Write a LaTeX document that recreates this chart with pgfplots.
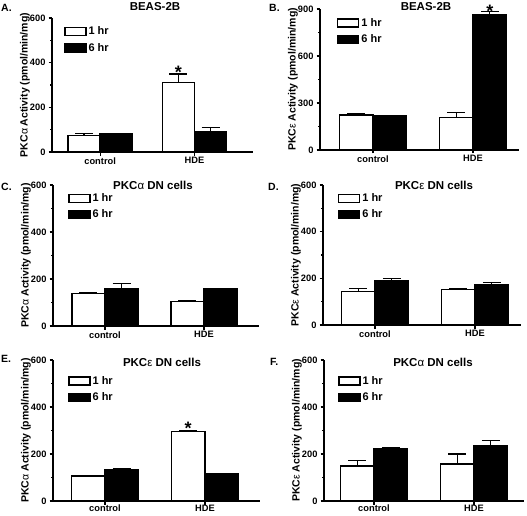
\documentclass[border=0pt]{standalone}
\usepackage{fontspec}
\setmainfont{Liberation Sans}
\usepackage{pgfplots}
\pgfplotsset{compat=1.18}
\pgfplotsset{
 prism/.style={
  scale only axis,
  axis x line*=bottom, axis y line*=left,
  axis line style={-, line width=1.5pt},
  ymin=0,
  xtick={0,1}, xticklabels={control,HDE},
  tick align=outside,
  major tick length=3.5pt, minor tick length=2pt,
  every tick/.style={line width=1.2pt, black},
  minor y tick num=1,
  /pgf/number format/assume math mode=true,
  tick label style={font=\bfseries\fontsize{9.3}{11}\selectfont},
  xticklabel style={yshift=1.5pt},
  yticklabel style={xshift=0.5pt},
  every axis y label/.style={at={([xshift=-27pt]rel axis cs:0,0.5)}, rotate=90, anchor=center, font=\bfseries\fontsize{10.5}{12}\selectfont},
  ybar, bar width=0.335,
  enlargelimits=false, clip=false,
  legend style={anchor=north west, draw=none, fill=none, inner sep=0pt, row sep=3pt,
     font=\bfseries\fontsize{11}{13}\selectfont, /tikz/every even column/.append style={column sep=0pt}},
  legend cell align=left,
 },
 errs/.style={
   error bars/y dir=plus, error bars/y explicit,
   error bars/error bar style={line width=1.3pt, black},
   error bars/error mark options={rotate=90, mark size=9pt, line width=1.3pt, black}},
 one/.style={fill=white, draw=black, line width=1.5pt, bar shift=-0.1675, errs},
 six/.style={fill=black, draw=black, line width=1.5pt, bar shift=0.1675, errs},
}
\newcommand{\legW}{\addlegendimage{legend image code/.code={\draw[fill=white,line width=1.3pt] (0pt,-4pt) rectangle (21pt,4pt);}}}
\newcommand{\legB}{\addlegendimage{legend image code/.code={\draw[fill=black,line width=1.3pt] (0pt,-4pt) rectangle (21pt,4pt);}}}
\newcommand{\gr}[1]{\textmd{#1}}
\begin{document}
\begin{tikzpicture}
\useasboundingbox (0,0) rectangle (527pt,515pt);
% ---------- A ----------
\begin{axis}[prism, at={(52pt,363pt)}, anchor=south west, width=201pt, height=134pt,
  xmin=-0.51, xmax=1.62, ymax=600, ytick={0,200,400,600},
  ylabel={PKC\gr{α} Activity (pmol/min/mg)},
  legend style={at={(0.06,0.95)}}]
\legW \addlegendentry{1 hr}
\legB \addlegendentry{6 hr}
\addplot[one, bar width=0.34, bar shift=-0.17, forget plot] coordinates {(0,73) +- (0,11) (1,311) +- (0,38)};
\addplot[six, bar width=0.34, bar shift=0.17, forget plot] coordinates {(0,82) +- (0,2) (1,91) +- (0,20)};
\node[font=\bfseries\fontsize{18}{18}\selectfont] at (axis cs:0.83,355) {*};
\end{axis}
% ---------- B ----------
\begin{axis}[prism, at={(320pt,365pt)}, anchor=south west, width=199pt, height=141pt,
  xmin=-0.53, xmax=1.46, ymax=900, ytick={0,300,600,900},
  ylabel={PKC\gr{ε} Activity (pmol/min/mg)},
  legend style={at={(0.085,0.95)}}]
\legW \addlegendentry{1 hr}
\legB \addlegendentry{6 hr}
\addplot[one, forget plot] coordinates {(0,223) +- (0,8) (1,208) +- (0,30)};
\addplot[six, forget plot] coordinates {(0,219) +- (0,2) (1,862) +- (0,21)};
\node[font=\bfseries\fontsize{18}{18}\selectfont] at (axis cs:1.1675,885) {*};
\end{axis}
% ---------- C ----------
\begin{axis}[prism, at={(53pt,189pt)}, anchor=south west, width=206pt, height=141pt,
  xmin=-0.525, xmax=1.556, ymax=600, ytick={0,200,400,600},
  ylabel={PKC\gr{α} Activity (pmol/min/mg)},
  legend style={at={(0.073,0.955)}}]
\legW \addlegendentry{1 hr}
\legB \addlegendentry{6 hr}
\addplot[one, forget plot] coordinates {(0,139) +- (0,3) (1,105) +- (0,3)};
\addplot[six, forget plot] coordinates {(0,159) +- (0,23) (1,159) +- (0,2)};
\end{axis}
% ---------- D ----------
\begin{axis}[prism, at={(323pt,190pt)}, anchor=south west, width=198pt, height=140pt,
  xmin=-0.52, xmax=1.46, ymax=600, ytick={0,200,400,600},
  ylabel={PKC\gr{ε} Activity (pmol/min/mg)},
  legend style={at={(0.075,0.955)}}]
\legW \addlegendentry{1 hr}
\legB \addlegendentry{6 hr}
\addplot[one, forget plot] coordinates {(0,143) +- (0,13) (1,153) +- (0,3)};
\addplot[six, forget plot] coordinates {(0,189) +- (0,11) (1,171) +- (0,12)};
\end{axis}
% ---------- E ----------
\begin{axis}[prism, at={(53pt,14pt)}, anchor=south west, width=207pt, height=141pt,
  xmin=-0.52, xmax=1.55, ymax=600, ytick={0,200,400,600},
  xticklabel style={yshift=1.5pt},
  ylabel={PKC\gr{α} Activity (pmol/min/mg)},
  legend style={at={(0.073,0.9)}}]
\legW \addlegendentry{1 hr}
\legB \addlegendentry{6 hr}
\addplot[one, forget plot] coordinates {(0,106) +- (0,0) (1,295) +- (0,4)};
\addplot[six, forget plot] coordinates {(0,132) +- (0,6) (1,115) +- (0,3)};
\node[font=\bfseries\fontsize{18}{18}\selectfont] at (axis cs:0.8325,310) {*};
\end{axis}
% ---------- F ----------
\begin{axis}[prism, at={(324pt,14pt)}, anchor=south west, width=200pt, height=141pt,
  xmin=-0.5, xmax=1.5, ymax=600, ytick={0,200,400,600},
  xticklabel style={yshift=1.5pt},
  ylabel={PKC\gr{ε} Activity (pmol/min/mg)},
  legend style={at={(0.07,0.9)}}]
\legW \addlegendentry{1 hr}
\legB \addlegendentry{6 hr}
\addplot[one, forget plot] coordinates {(0,149) +- (0,23) (1,157) +- (0,43)};
\addplot[six, forget plot] coordinates {(0,224) +- (0,4) (1,237) +- (0,20)};
\end{axis}
% titles and panel letters
\begin{scope}[every node/.style={font=\bfseries\fontsize{11.5}{13}\selectfont}]
\node at (155pt,508pt) {BEAS-2B};
\node at (426pt,508pt) {BEAS-2B};
\node at (153pt,330pt) {PKC\gr{α} DN cells};
\node at (434pt,330pt) {PKC\gr{ε} DN cells};
\node at (162pt,153pt) {PKC\gr{ε} DN cells};
\node at (433pt,153pt) {PKC\gr{α} DN cells};
\end{scope}
\begin{scope}[every node/.style={font=\bfseries\fontsize{10.5}{12}\selectfont, anchor=west, inner sep=0pt}]
\node at (1pt,507.5pt) {A.};
\node at (269pt,507.5pt) {B.};
\node at (1pt,328.5pt) {C.};
\node at (268pt,328.5pt) {D.};
\node at (1pt,156.5pt) {E.};
\node at (270pt,153.5pt) {F.};
\end{scope}
\end{tikzpicture}
\end{document}
